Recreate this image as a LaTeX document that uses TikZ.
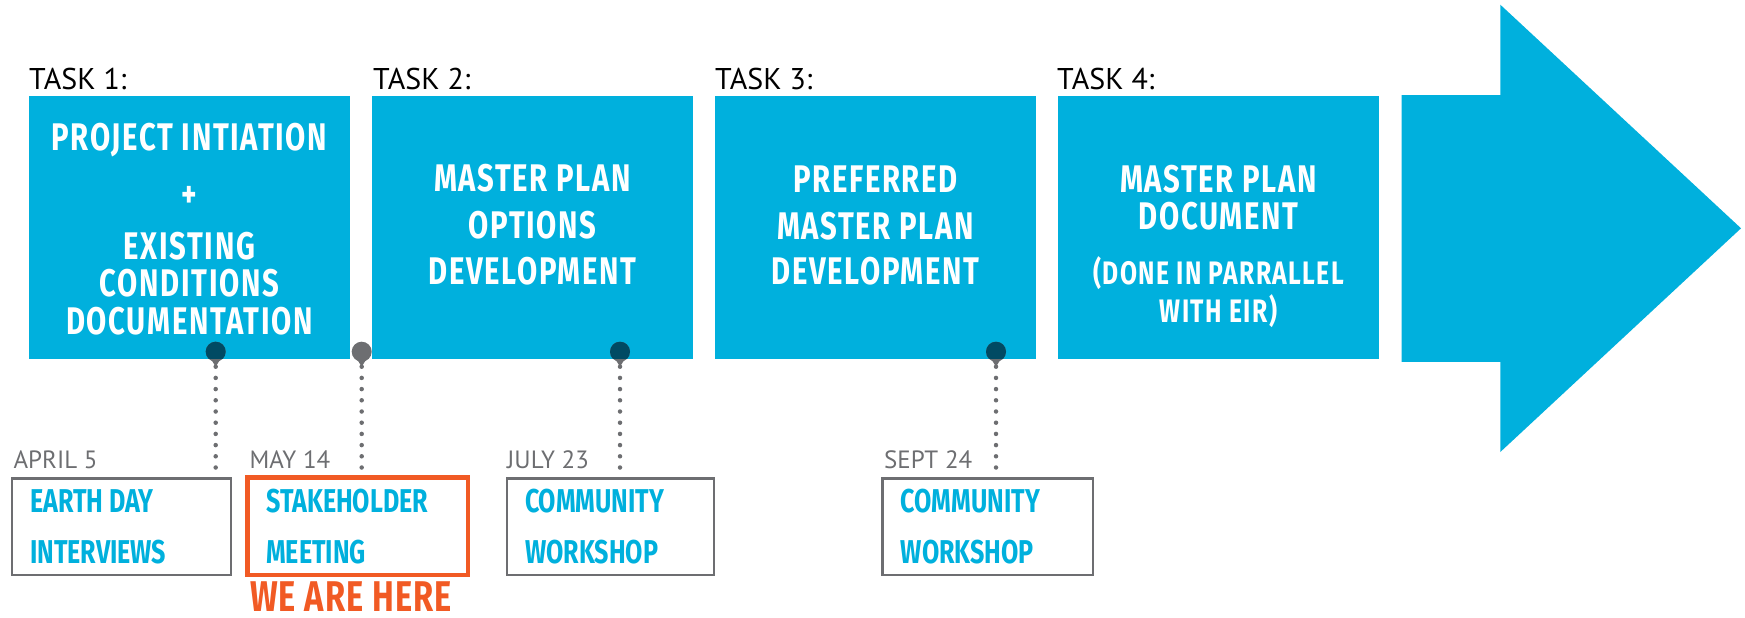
\documentclass[tikz,border=0pt]{standalone}
\usepackage{fontspec}
\setmainfont{PT Sans}
\newfontfamily\condf{Fira Sans}[FakeStretch=0.76]
\newfontfamily\boxf{Fira Sans}[FakeStretch=0.76, LetterSpace=4.3]
\newfontfamily\heref{Fira Sans}[FakeStretch=0.76, LetterSpace=2.5]
\usetikzlibrary{calc}
\definecolor{tblue}{RGB}{0,176,221}
\definecolor{pgray}{RGB}{109,110,113}
\definecolor{pdark}{RGB}{0,74,99}
\definecolor{porange}{RGB}{241,90,36}
\tikzset{
 taskbox/.style={fill=tblue, inner sep=0pt, minimum width=321pt, minimum height=262.3pt, anchor=north west},
 boxline/.style={text=white, inner sep=0pt, anchor=base, font=\boxf\bfseries\fontsize{38.5}{40}\selectfont},
 boxsmall/.style={text=white, inner sep=0pt, anchor=base, font=\boxf\bfseries\fontsize{32.5}{34}\selectfont},
 tasklabel/.style={inner sep=0pt, anchor=base west, font=\fontsize{30}{32}\selectfont, text=black},
 datelabel/.style={inner sep=0pt, anchor=base west, font=\fontsize{25}{27}\selectfont, text=pgray},
 eventbox/.style={draw=pgray, line width=2.5pt, inner sep=0pt, minimum height=96.5pt},
 herebox/.style={draw=porange, line width=4.5pt, inner sep=0pt, minimum height=97.5pt},
 eventline/.style={text=tblue, inner sep=0pt, anchor=base west, font=\condf\bfseries\fontsize{33}{35}\selectfont},
 herelabel/.style={inner sep=0pt, anchor=base west, text=porange, font=\heref\bfseries\fontsize{43}{45}\selectfont},
 pin/.style={circle, fill=pgray, inner sep=0pt, minimum size=20pt},
 dotline/.style={draw=pgray, line width=4.5pt, line cap=round, dash pattern=on 0pt off 11.2pt},
}
\begin{document}
\begin{tikzpicture}[x=1pt,y=-1pt]
\useasboundingbox (0,0) rectangle (1745,618);
% task boxes
\node[taskbox] (t1) at (29,96) {};
\node[taskbox] (t2) at (372,96) {};
\node[taskbox] (t3) at (715,96) {};
\node[taskbox] (t4) at (1058,96) {};
% big arrow
\fill[tblue] (1401.5,95.2) -- (1500.3,95.2) -- (1500.3,4.7) -- (1741,228.3) -- (1500.3,452) -- (1500.3,361.8) -- (1401.5,361.8) -- cycle;
% task labels
\node[tasklabel] (k1) at (29,89.3) {TASK 1:};
\node[tasklabel] (k2) at (373,89.3) {TASK 2:};
\node[tasklabel] (k3) at (715,89.3) {TASK 3:};
\node[tasklabel] (k4) at (1057,89.3) {TASK 4:};
% box 1 text
\node[boxline] (t1a) at (189.5,150) {PROJECT INTIATION};
\node[boxline, anchor=center] (t1b) at (189.5,196.7) {+};
\node[boxline] (t1c) at (189.5,259) {EXISTING};
\node[boxline] (t1d) at (189.5,296.7) {CONDITIONS};
\node[boxline] (t1e) at (189.5,334) {DOCUMENTATION};
% box 2 text
\node[boxline] (t2a) at (532.5,191.7) {MASTER PLAN};
\node[boxline] (t2b) at (532.5,238.3) {OPTIONS};
\node[boxline] (t2c) at (532.5,284.3) {DEVELOPMENT};
% box 3 text
\node[boxline] (t3a) at (875.5,192) {PREFERRED};
\node[boxline] (t3b) at (875.5,239.3) {MASTER PLAN};
\node[boxline] (t3c) at (875.5,284.7) {DEVELOPMENT};
% box 4 text
\node[boxline] (t4a) at (1218.5,192.8) {MASTER PLAN};
\node[boxline] (t4b) at (1218.5,229.5) {DOCUMENT};
\node[boxsmall] (t4c) at (1218.5,284.4) {(DONE IN PARRALLEL};
\node[boxsmall] (t4d) at (1218.5,322) {WITH EIR)};
% pins
\node[pin] (p1) at (215.7,351.7) {};
\node[pin] (p2) at (361.7,351.7) {};
\node[pin] (p3) at (620,351.7) {};
\node[pin] (p4) at (996,351.7) {};
\foreach \p in {p1,p2,p3,p4}
  \fill[pgray] ($(\p)+(-5,7)$) -- ($(\p)+(5,7)$) -- ($(\p)+(0,15)$) -- cycle;
\begin{scope}
  \clip (t1.south west) rectangle (t1.north east);
  \fill[pdark] (p1) circle (10);
\end{scope}
\begin{scope}
  \clip (t2.south west) rectangle (t2.north east);
  \fill[pdark] (p3) circle (10);
\end{scope}
\begin{scope}
  \clip (t3.south west) rectangle (t3.north east);
  \fill[pdark] (p4) circle (10);
\end{scope}
% event boxes
\node[eventbox, minimum width=218.8pt] (e1) at (121.4,526.5) {};
\node[herebox, minimum width=220.5pt] (e2) at (357.5,526) {};
\node[eventbox, minimum width=206.8pt] (e3) at (610.4,526.5) {};
\node[eventbox, minimum width=210.5pt] (e4) at (987.5,526.5) {};
% connectors
\draw[dotline] ([yshift=-15pt]p1.center) -- (p1.center |- e1.north);
\draw[dotline] ([yshift=-15pt]p2.center) -- (p2.center |- e2.north);
\draw[dotline] ([yshift=-15pt]p3.center) -- (p3.center |- e3.north);
\draw[dotline] ([yshift=-15pt]p4.center) -- (p4.center |- e4.north);
% dates
\node[datelabel] (d1) at (13.4,468.3) {APRIL 5};
\node[datelabel] (d2) at (249.5,468.3) {MAY 14};
\node[datelabel] (d3) at (507,468.3) {JULY 23};
\node[datelabel] (d4) at (884,468.3) {SEPT 24};
% event texts
\node[eventline] (e1a) at (29.9,512.7) {EARTH DAY};
\node[eventline] (e1b) at (29.9,563.3) {INTERVIEWS};
\node[eventline] (e2a) at (266,512.7) {STAKEHOLDER};
\node[eventline] (e2b) at (266,563.3) {MEETING};
\node[eventline] (e3a) at (524.8,512.7) {COMMUNITY};
\node[eventline] (e3b) at (524.8,563.3) {WORKSHOP};
\node[eventline] (e4a) at (900.7,512.7) {COMMUNITY};
\node[eventline] (e4b) at (900.7,563.3) {WORKSHOP};
% we are here
\node[herelabel] (here) at (250,611.5) {WE ARE HERE};
\end{tikzpicture}
\end{document}
